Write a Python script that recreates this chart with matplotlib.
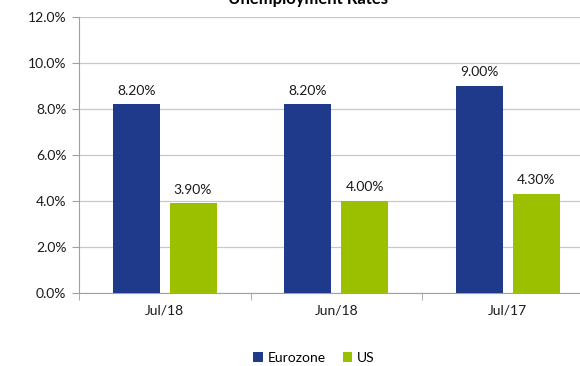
import matplotlib
matplotlib.use("Agg")
import matplotlib.pyplot as plt
import numpy as np
from matplotlib.ticker import FuncFormatter, FixedLocator

categories = ["Jul/18", "Jun/18", "Jul/17"]
eurozone = [8.2, 8.2, 9.0]
us = [3.9, 4.0, 4.3]
series_names = ["Eurozone", "US"]
yticks = [0, 2, 4, 6, 8, 10, 12]

plt.rcParams['font.family'] = ['Lato', 'DejaVu Sans']

W, H = 580, 366
fig = plt.figure(figsize=(W/100, H/100), dpi=100)
left, right, top, bottom = 79, 593.5, 17, 293
ax = fig.add_axes([left/W, (H-bottom)/H, (right-left)/W, (bottom-top)/H])

x = np.arange(len(categories))
bw = 0.274
off = 0.165
c_eu = "#1F3A8A"
c_us = "#9AC000"
b1 = ax.bar(x - off, eurozone, bw, color=c_eu, label=series_names[0], zorder=3)
b2 = ax.bar(x + off, us, bw, color=c_us, label=series_names[1], zorder=3)

for bars, vals in ((b1, eurozone), (b2, us)):
    for b, v in zip(bars, vals):
        ax.annotate(f"{v:.2f}%", (b.get_x() + b.get_width()/2, v),
                    xytext=(0, 5.5), textcoords="offset points",
                    ha="center", va="bottom", fontsize=10, color="#1A1A1A")

ax.set_xlim(-0.5, len(categories) - 0.5)
ax.set_ylim(0, 12)
ax.set_yticks(yticks)
ax.yaxis.set_major_formatter(FuncFormatter(lambda v, p: f"{v:.1f}%"))
ax.set_xticks(x)
ax.set_xticklabels(categories)
ax.xaxis.set_minor_locator(FixedLocator([-0.5, 0.5, 1.5, 2.5]))
ax.tick_params(axis='x', which='major', length=0, pad=8, labelsize=10, labelcolor="#1A1A1A")
ax.tick_params(axis='x', which='minor', length=5, color="#A0A0A0", direction='out')
ax.tick_params(axis='y', length=5, color="#A0A0A0", labelsize=10, labelcolor="#1A1A1A", pad=4)

ax.grid(axis='y', color="#C8C8C8", linewidth=0.9, zorder=0)
for s in ["top", "right"]:
    ax.spines[s].set_visible(False)
ax.spines["left"].set_color("#A0A0A0")
ax.spines["bottom"].set_color("#A0A0A0")

fig.text(308/W, 1 - 4/H, "Unemployment Rates", ha="center", va="baseline",
         fontsize=12, fontweight="bold", color="#000000")

leg = fig.legend(handles=[b1, b2], labels=series_names, loc="center",
                 bbox_to_anchor=(314/W, 1 - 358/H), ncol=2, frameon=False,
                 fontsize=10, handlelength=0.7, handleheight=0.7,
                 handletextpad=0.35, columnspacing=1.2)

fig.savefig("out.png", dpi=100)
